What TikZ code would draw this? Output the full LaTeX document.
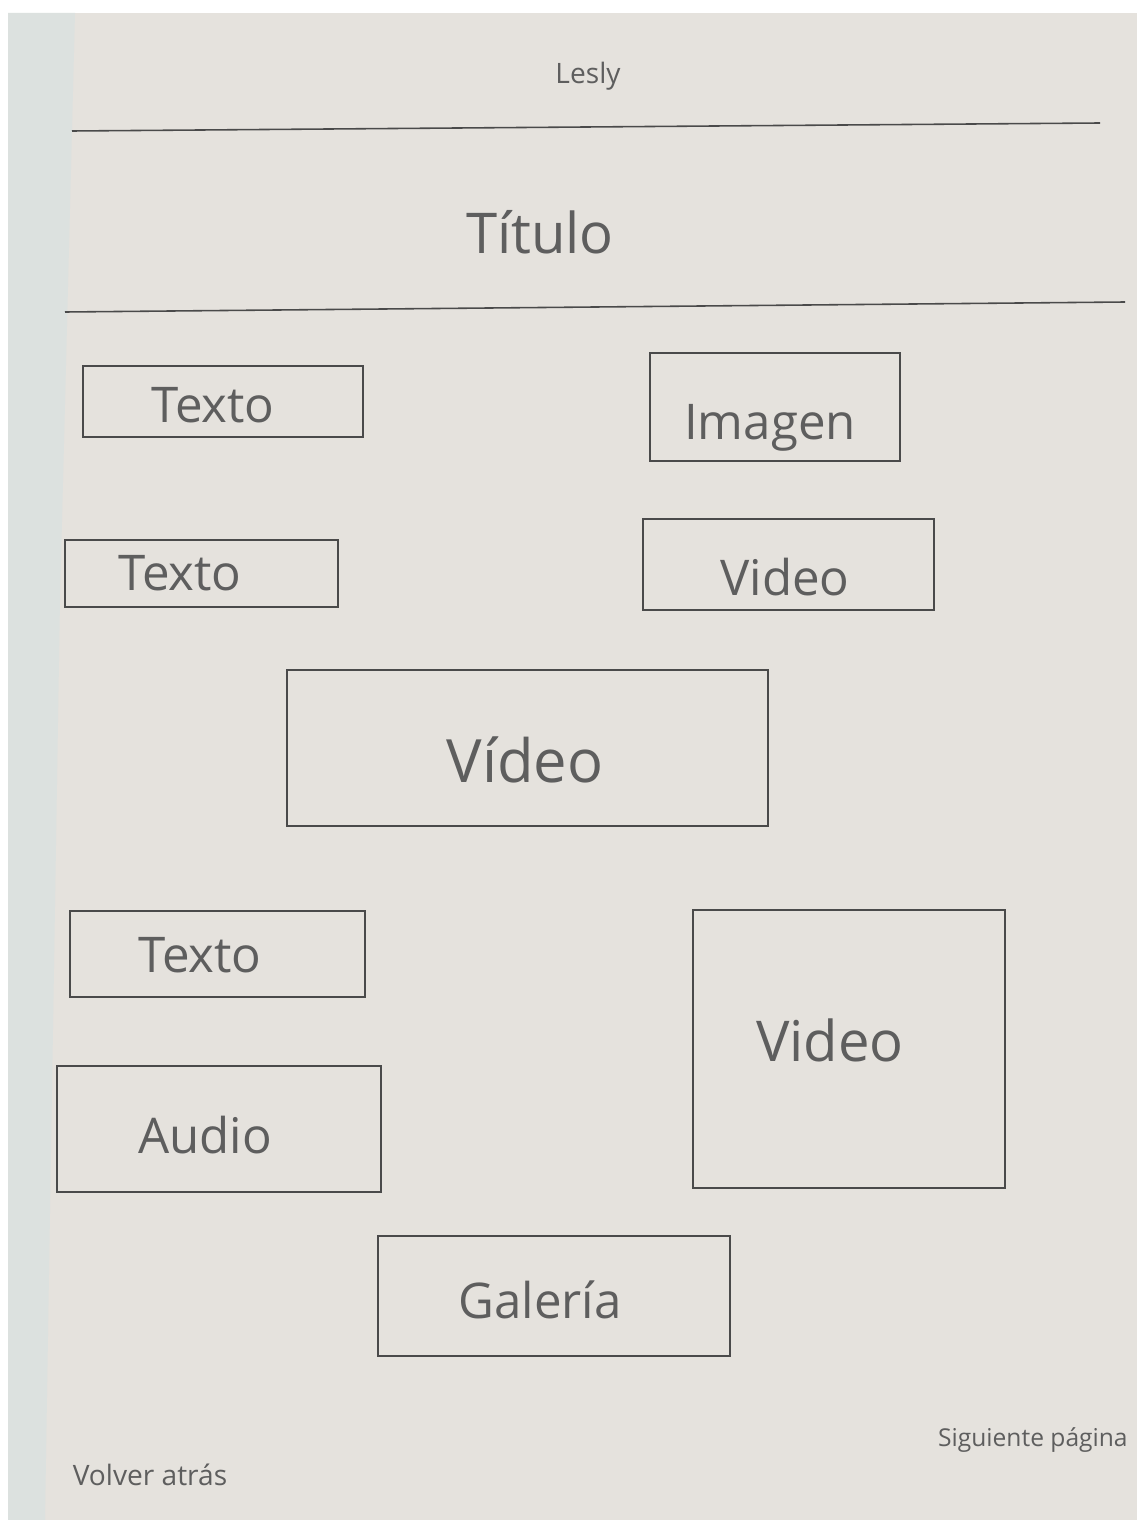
\documentclass[tikz,border=0pt]{standalone}
\usepackage{fontspec}
\setmainfont{Open Sans}
\definecolor{paper}{HTML}{E5E2DD}
\definecolor{strip}{HTML}{DCE1DF}
\definecolor{ink}{HTML}{4A4A4A}
\definecolor{pencil}{HTML}{5E5E5E}
\begin{document}
\begin{tikzpicture}[x=0.02cm,y=-0.02cm,
  box/.style={draw=ink,line width=0.9pt},
  rule/.style={draw=ink,line width=0.9pt},
  hand/.style={text=pencil,inner sep=0pt,font=\fontsize{28}{30}\selectfont},
  small/.style={text=pencil,inner sep=0pt,font=\fontsize{16}{18}\selectfont}]
\useasboundingbox (0,0) rectangle (1137,1520);
\fill[white] (0,0) rectangle (1137,1520);
\fill[paper] (8,13) rectangle (1137,1520);
\fill[strip] (8,13) -- (75,13) -- (60,600) -- (45,1520) -- (8,1520) -- cycle;
% header
\node[small] (lesly) at (588,76) {Lesly};
\coordinate (r1a) at (72,131);
\coordinate (r1b) at (1100,123);
\draw[rule] (r1a) -- (r1b);
\node[hand,font=\fontsize{32}{34}\selectfont] (titulo) at (540,232) {Título};
\coordinate (r2a) at (65,312);
\coordinate (r2b) at (1125,302);
\draw[rule] (r2a) -- (r2b);
% boxes
\draw[box] (83,366) rectangle (363,437);
\node[hand] (texto1) at (213,405) {Texto};
\draw[box] (650,353) rectangle (900,461);
\node[hand] (imagen) at (770,428) {Imagen};
\draw[box] (65,540) rectangle (338,607);
\node[hand] (texto2) at (180,573) {Texto};
\draw[box] (643,519) rectangle (934,610);
\node[hand] (video1) at (785,577) {Video};
\draw[box] (287,670) rectangle (768,826);
\node[hand,font=\fontsize{34}{36}\selectfont] (video2) at (525,760) {Vídeo};
\draw[box] (70,911) rectangle (365,997);
\node[hand] (texto3) at (200,955) {Texto};
\draw[box] (57,1066) rectangle (381,1192);
\node[hand] (audio) at (205,1135) {Audio};
\draw[box] (693,910) rectangle (1005,1188);
\node[hand,font=\fontsize{32}{34}\selectfont] (video3) at (830,1040) {Video};
\draw[box] (378,1236) rectangle (730,1356);
\node[hand] (galeria) at (540,1300) {Galería};
% footer
\node[small] (volver) at (150,1475) {Volver atrás};
\node[small,anchor=east,font=\fontsize{14}{16}\selectfont] (siguiente) at (1128,1440) {Siguiente página};
\end{tikzpicture}
\end{document}
